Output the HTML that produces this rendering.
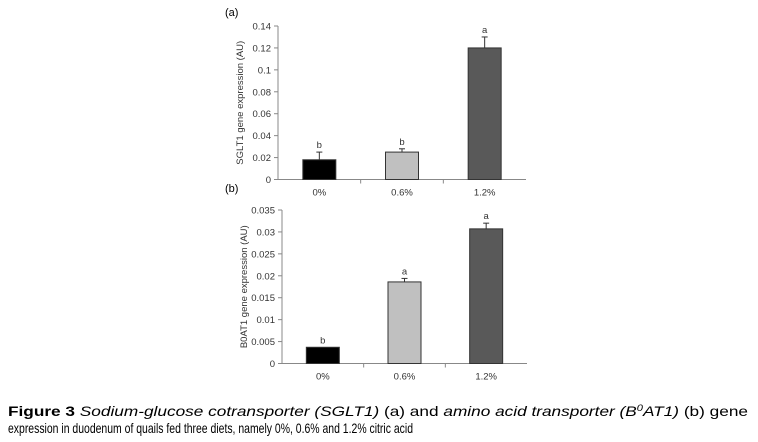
<!DOCTYPE html>
<html><head><meta charset="utf-8"><style>
html,body{margin:0;padding:0;background:#fff;}
svg{display:block;font-family:"Liberation Sans",Arial,sans-serif;}
</style></head><body>
<svg id="s" width="758" height="442" viewBox="0 0 758 442">
<g id="ca"></g>
<g id="cb"></g>
<text x="8" y="416" font-size="14" textLength="740" lengthAdjust="spacingAndGlyphs"><tspan font-weight="bold">Figure 3</tspan> <tspan font-style="italic">Sodium-glucose cotransporter (SGLT1)</tspan> (a) and <tspan font-style="italic">amino acid transporter (B<tspan font-size="9" dy="-5">0</tspan><tspan dy="5">AT1)</tspan></tspan> (b) gene</text>
<text x="8" y="433" font-size="14" textLength="405" lengthAdjust="spacingAndGlyphs">expression in duodenum of quails fed three diets, namely 0%, 0.6% and 1.2% citric acid</text>
</svg>
<script>
const categories = ["0%", "0.6%", "1.2%"];
const sgltValues = [0.018, 0.025, 0.12];
const sgltErrors = [0.007, 0.003, 0.01];
const sgltLetters = ["b", "b", "a"];
const sgltTicks = ["0", "0.02", "0.04", "0.06", "0.08", "0.1", "0.12", "0.14"];
const b0Values = [0.0037, 0.0186, 0.0307];
const b0Errors = [0, 0.0008, 0.0013];
const b0Letters = ["b", "a", "a"];
const b0Ticks = ["0", "0.005", "0.01", "0.015", "0.02", "0.025", "0.03", "0.035"];
const fills = ["#000000", "#c0c0c0", "#595959"];
const NS = "http://www.w3.org/2000/svg";
function mk(p, tag, a){const e=document.createElementNS(NS,tag);for(const k in a)e.setAttribute(k,a[k]);p.appendChild(e);return e;}
function chart(g, cfg){
  const {x0,x1,yTop,yBot,max,ticks,vals,errs,letters,ytitle,panel,panelY,key}=cfg;
  const y = v => yBot - v/max*(yBot-yTop);
  const step = (x1-x0)/categories.length;
  const xc = i => x0 + step*(i+0.5);
  const ax = mk(g,"line",{x1:x0,y1:yTop,x2:x0,y2:yBot,stroke:"#888","stroke-width":1});
  
  
  const xa = mk(g,"line",{x1:x0,y1:yBot,x2:x1,y2:yBot,stroke:"#888","stroke-width":1});
  
  
  ticks.forEach((t,i)=>{
    const v = max*i/(ticks.length-1);
    mk(g,"line",{x1:x0-4,y1:y(v),x2:x0,y2:y(v),stroke:"#888"});
    const tx = mk(g,"text",{x:x0-7,y:y(v)+3.5,"font-size":"9.5","text-anchor":"end",fill:"#333"});
    tx.textContent = t;
    
    
  });
  for(let i=1;i<categories.length;i++) mk(g,"line",{x1:x0+step*i,y1:yBot,x2:x0+step*i,y2:yBot+4,stroke:"#888"});
  categories.forEach((c,i)=>{
    const bw = 33;
    const r = mk(g,"rect",{x:xc(i)-bw/2,y:y(vals[i]),width:bw,height:yBot-y(vals[i]),fill:fills[i],stroke:"#333","stroke-width":1});
    
    
    const top = y(vals[i]+errs[i]);
    if(errs[i]>0){
      mk(g,"line",{x1:xc(i),y1:y(vals[i]),x2:xc(i),y2:top,stroke:"#333"});
      mk(g,"line",{x1:xc(i)-3,y1:top,x2:xc(i)+3,y2:top,stroke:"#333"});
    }
    const lt = mk(g,"text",{x:xc(i),y:top-4,"font-size":"9.5","text-anchor":"middle",fill:"#333"});
    lt.textContent = letters[i];
    
    
    const cl = mk(g,"text",{x:xc(i),y:yBot+16,"font-size":"9.5","text-anchor":"middle",fill:"#333"});
    cl.textContent = c;
    
    
  });
  const yt = mk(g,"text",{x:0,y:0,"font-size":"9.5","text-anchor":"middle",fill:"#333",transform:`translate(${x0-35},${(yTop+yBot)/2}) rotate(-90)`});
  yt.textContent = ytitle;
  
  
  const pl = mk(g,"text",{x:225,y:panelY,"font-size":"11",fill:"#000"});
  pl.textContent = panel;
  
  
}
chart(document.getElementById("ca"),{x0:278,x1:526,yTop:26,yBot:179.5,max:0.14,ticks:sgltTicks,vals:sgltValues,errs:sgltErrors,letters:sgltLetters,ytitle:"SGLT1 gene expression (AU)",panel:"(a)",panelY:16,key:"sglt1"});
chart(document.getElementById("cb"),{x0:282,x1:527,yTop:210,yBot:363.5,max:0.035,ticks:b0Ticks,vals:b0Values,errs:b0Errors,letters:b0Letters,ytitle:"B0AT1 gene expression (AU)",panel:"(b)",panelY:192,key:"b0at1"});
</script>
</body></html>
